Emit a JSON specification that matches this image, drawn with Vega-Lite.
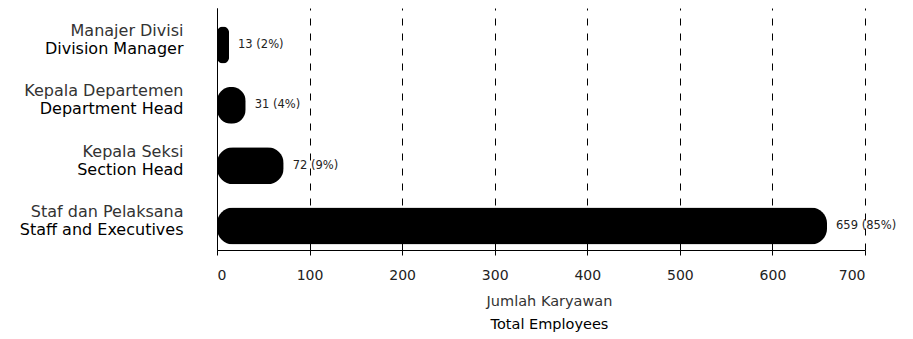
{
  "$schema": "https://vega.github.io/schema/vega-lite/v6.json",
  "width": 648,
  "height": 242,
  "autosize": {"type": "none"},
  "padding": {"left": 217, "top": 8, "right": 48, "bottom": 89},
  "background": "white",
  "config": {"view": {"stroke": null}, "font": "DejaVu Sans"},
  "data": {
    "values": [
      {"key": "Manajer Divisi|Division Manager", "value": 13, "label": "13 (2%)"},
      {"key": "Kepala Departemen|Department Head", "value": 31, "label": "31 (4%)"},
      {"key": "Kepala Seksi|Section Head", "value": 72, "label": "72 (9%)"},
      {"key": "Staf dan Pelaksana|Staff and Executives", "value": 659, "label": "659 (85%)"}
    ]
  },
  "layer": [
    {
      "mark": {"type": "bar", "color": "black", "cornerRadius": 16},
      "encoding": {
        "y": {
          "field": "key", "type": "nominal", "sort": null,
          "scale": {"paddingInner": 0.387, "paddingOuter": 0.2, "align": 0.77},
          "axis": {
            "title": null, "orient": "left",
            "labelExpr": "split(datum.label, '|')[0]",
            "labelOffset": -14, "labelFontSize": 16, "labelColor": "#333",
            "labelPadding": 34, "ticks": false, "domain": true, "domainColor": "black",
            "labelLimit": 300, "grid": false
          }
        },
        "x": {
          "field": "value", "type": "quantitative",
          "scale": {"domain": [0, 700], "nice": false},
          "axis": {
            "title": "Jumlah Karyawan",
            "values": [0, 100, 200, 300, 400, 500, 600, 700],
            "grid": true, "gridDash": [7, 8], "gridColor": "black", "gridOpacity": 1,
            "domainColor": "black", "tickColor": "black", "tickSize": 5,
            "labelPadding": 13, "labelFontSize": 14, "labelColor": "#222",
            "titleFontSize": 14.5, "titleFontWeight": "normal", "titleColor": "#333",
            "titlePadding": 12, "titleX": 332
          }
        }
      }
    },
    {
      "mark": {"type": "text", "align": "left", "baseline": "middle", "dx": 9, "fontSize": 11.5, "color": "#222"},
      "encoding": {
        "text": {"field": "label"},
        "y": {
          "field": "key", "type": "nominal", "sort": null,
          "axis": {
            "title": null, "orient": "left",
            "labelExpr": "split(datum.label, '|')[1]",
            "labelOffset": 4, "labelFontSize": 16, "labelColor": "black",
            "labelPadding": 34, "ticks": false, "domain": false,
            "labelLimit": 300, "grid": false
          }
        },
        "x": {
          "field": "value", "type": "quantitative",
          "axis": {
            "orient": "bottom", "title": "Total Employees",
            "labels": false, "ticks": false, "domain": false, "grid": false,
            "titleFontSize": 14.5, "titleFontWeight": "normal", "titleColor": "black",
            "titlePadding": 67, "titleX": 332
          }
        }
      }
    }
  ],
  "resolve": {"axis": {"x": "independent", "y": "independent"}}
}
